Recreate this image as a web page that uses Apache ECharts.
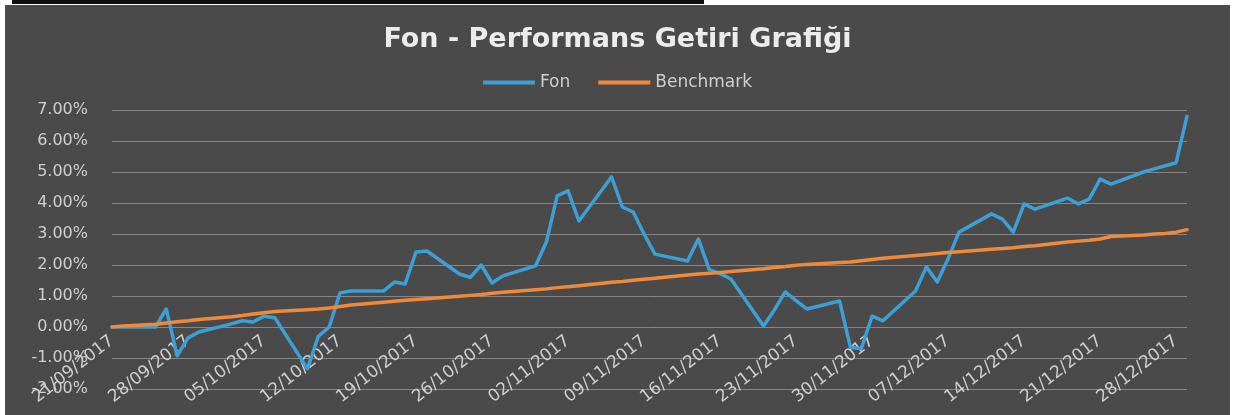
<!DOCTYPE html>
<html>
<head>
<meta charset="utf-8">
<script src="https://cdn.jsdelivr.net/npm/echarts@6/dist/echarts.min.js"></script>
<style>
  html, body { margin: 0; padding: 0; background: #ffffff; width: 1239px; height: 415px; overflow: hidden; }
  #topbar { position: absolute; left: 12px; top: 0; width: 692px; height: 4px; background: #111; }
  #chart { position: absolute; left: 5px; top: 5px; width: 1225px; height: 410px; }
</style>
</head>
<body>
<div id="topbar"></div>
<div id="chart"></div>
<script>
// Trading days (dd/mm/yyyy)
const dates = [
  '21/09/2017','22/09/2017','25/09/2017','26/09/2017','27/09/2017','28/09/2017','29/09/2017',
  '02/10/2017','03/10/2017','04/10/2017','05/10/2017','06/10/2017','09/10/2017','10/10/2017','11/10/2017','12/10/2017','13/10/2017',
  '16/10/2017','17/10/2017','18/10/2017','19/10/2017','20/10/2017','23/10/2017','24/10/2017','25/10/2017','26/10/2017','27/10/2017',
  '30/10/2017','31/10/2017',
  '01/11/2017','02/11/2017','03/11/2017','06/11/2017','07/11/2017','08/11/2017','09/11/2017','10/11/2017','13/11/2017','14/11/2017',
  '15/11/2017','16/11/2017','17/11/2017','20/11/2017','21/11/2017','22/11/2017','23/11/2017','24/11/2017','27/11/2017','28/11/2017',
  '29/11/2017','30/11/2017',
  '01/12/2017','04/12/2017','05/12/2017','06/12/2017','07/12/2017','08/12/2017','11/12/2017','12/12/2017','13/12/2017','14/12/2017',
  '15/12/2017','18/12/2017','19/12/2017','20/12/2017','21/12/2017','22/12/2017','25/12/2017','26/12/2017','27/12/2017','28/12/2017',
  '29/12/2017'
];
// Fund return (%)
const fon = [
  0.00, 0.00, 0.00, 0.58, -0.93, -0.35, -0.16,
  0.10, 0.20, 0.16, 0.35, 0.30, -1.35, -0.30, 0.00, 1.10, 1.16,
  1.16, 1.45, 1.39, 2.42, 2.45, 1.71, 1.60, 2.00, 1.42, 1.65,
  1.97, 2.74,
  4.23, 4.39, 3.42, 4.84, 3.87, 3.71, 3.00, 2.35, 2.13, 2.84,
  1.85, 1.72, 1.55, 0.03, 0.55, 1.13, 0.85, 0.58, 0.84, -0.65,
  -0.70, 0.35,
  0.20, 1.16, 1.94, 1.45, 2.20, 3.06, 3.65, 3.48, 3.06, 3.97,
  3.80, 4.16, 3.97, 4.13, 4.77, 4.61, 5.00, 5.10, 5.20, 5.30,
  6.80
];
// Benchmark return (%)
const benchmark = [
  0.00, 0.03, 0.09, 0.13, 0.17, 0.20, 0.24,
  0.33, 0.37, 0.42, 0.46, 0.50, 0.56, 0.58, 0.61, 0.66, 0.71,
  0.80, 0.83, 0.86, 0.89, 0.91, 0.99, 1.02, 1.05, 1.09, 1.12,
  1.20, 1.23,
  1.27, 1.30, 1.33, 1.44, 1.47, 1.51, 1.54, 1.57, 1.68, 1.71,
  1.73, 1.76, 1.79, 1.88, 1.92, 1.95, 1.99, 2.02, 2.08, 2.10,
  2.14, 2.18,
  2.22, 2.31, 2.34, 2.37, 2.40, 2.43, 2.51, 2.53, 2.56, 2.60,
  2.62, 2.74, 2.77, 2.80, 2.84, 2.92, 2.97, 3.00, 3.02, 3.06,
  3.14
];
const yTicks = { min: -2, max: 7, step: 1 };
const xTickStepDays = 7;

function parseDate(s) {
  const p = s.split('/');
  return Date.UTC(+p[2], +p[1] - 1, +p[0]);
}
const DAY = 86400000;
const t0 = parseDate(dates[0]);
const dayIdx = dates.map(d => Math.round((parseDate(d) - t0) / DAY));
const lastDay = dayIdx[dayIdx.length - 1];
function pad(n) { return (n < 10 ? '0' : '') + n; }
function dayLabel(v) {
  if (v % xTickStepDays !== 0) return '';
  const d = new Date(t0 + v * DAY);
  return pad(d.getUTCDate()) + '/' + pad(d.getUTCMonth() + 1) + '/' + d.getUTCFullYear();
}

const chart = echarts.init(document.getElementById('chart'), null, { renderer: 'canvas' });
const textCol = '#cfcfcf';
const gridCol = '#868686';
chart.setOption({
  backgroundColor: '#4a4a4a',
  animation: false,
  title: {
    text: 'Fon - Performans Getiri Grafiği',
    left: 'center',
    top: 16,
    textStyle: { color: '#ececec', fontFamily: 'DejaVu Sans', fontWeight: 'bold', fontSize: 27 }
  },
  legend: {
    data: ['Fon', 'Benchmark'],
    left: 'center',
    top: 64,
    icon: 'rect',
    itemWidth: 52,
    itemHeight: 4,
    itemGap: 28,
    textStyle: { color: textCol, fontFamily: 'DejaVu Sans', fontSize: 17 }
  },
  grid: { left: 107, right: 43, top: 105, bottom: 26, containLabel: false, outerBoundsMode: 'none' },
  xAxis: {
    type: 'value',
    min: 0,
    max: lastDay,
    interval: xTickStepDays,
    position: 'bottom',
    offset: 0,
    axisLine: { show: false, onZero: false },
    axisTick: { show: false },
    splitLine: { show: false },
    axisLabel: {
      rotate: 38,
      margin: 12,
      color: textCol,
      fontFamily: 'DejaVu Sans',
      fontSize: 17,
      showMaxLabel: false,
      formatter: dayLabel
    }
  },
  yAxis: {
    type: 'value',
    min: yTicks.min,
    max: yTicks.max,
    interval: yTicks.step,
    axisLine: { show: false, onZero: false },
    axisTick: { show: false },
    splitLine: { show: true, lineStyle: { color: gridCol, width: 1 } },
    axisLabel: {
      color: textCol,
      fontFamily: 'DejaVu Sans',
      fontSize: 16,
      margin: 24,
      formatter: v => v.toFixed(2) + '%'
    }
  },
  series: [
    {
      name: 'Fon',
      type: 'line',
      data: dayIdx.map((d, i) => [d, fon[i]]),
      symbol: 'none',
      lineStyle: { color: '#3c9fd5', width: 3.5, cap: 'round', join: 'round' },
      itemStyle: { color: '#3c9fd5' },
      z: 3
    },
    {
      name: 'Benchmark',
      type: 'line',
      data: dayIdx.map((d, i) => [d, benchmark[i]]),
      symbol: 'none',
      lineStyle: { color: '#f08a3a', width: 3.5, cap: 'round', join: 'round' },
      itemStyle: { color: '#f08a3a' },
      z: 4
    }
  ]
});
// Excel places the date labels next to the horizontal axis, which crosses at 0%:
// shift the x axis up by the distance between the 0 and the minimum of the y scale.
const yZero = chart.convertToPixel({ yAxisIndex: 0 }, 0);
const yMin = chart.convertToPixel({ yAxisIndex: 0 }, yTicks.min);
chart.setOption({ xAxis: { offset: -(yMin - yZero) } });
</script>
</body>
</html>
